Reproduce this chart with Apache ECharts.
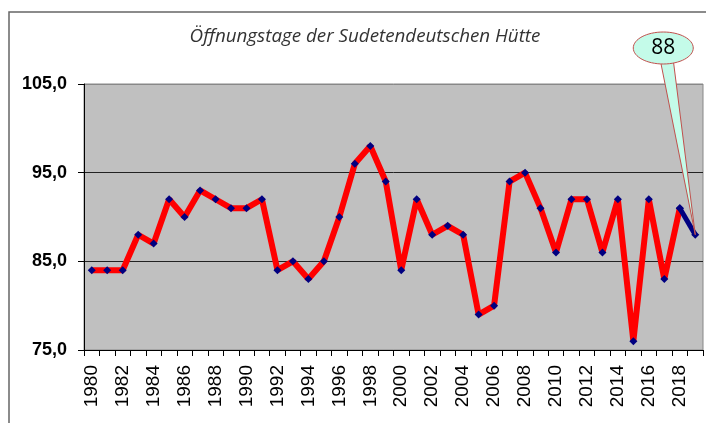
<!DOCTYPE html>
<html>
<head>
<meta charset="utf-8">
<script src="https://cdn.jsdelivr.net/npm/echarts@6/dist/echarts.min.js"></script>
<style>
  html, body { margin: 0; padding: 0; background: #fff; }
  #chart { width: 706px; height: 423px; }
</style>
</head>
<body>
<div id="chart"></div>
<script>
// Jahre und Öffnungstage
const years = ['1980','1981','1982','1983','1984','1985','1986','1987','1988','1989',
  '1990','1991','1992','1993','1994','1995','1996','1997','1998','1999',
  '2000','2001','2002','2003','2004','2005','2006','2007','2008','2009',
  '2010','2011','2012','2013','2014','2015','2016','2017','2018','2019'];
const days = [84, 84, 84, 88, 87, 92, 90, 93, 92, 91,
  91, 92, 84, 85, 83, 85, 90, 96, 98, 94,
  84, 92, 88, 89, 88, 79, 80, 94, 95, 91,
  86, 92, 92, 86, 92, 76, 92, 83, 91, 88];
const yTicks = [75, 85, 95, 105];
const calloutText = '88';

// letztes Segment dunkelblau
const lastSegment = days.map((v, i) => (i >= days.length - 2 ? v : '-'));

const myChart = echarts.init(document.getElementById('chart'));
const option = {
  animation: false,
  title: {
    text: 'Öffnungstage der Sudetendeutschen Hütte',
    left: 360,
    top: 22,
    textAlign: 'center',
    textStyle: {
      fontFamily: 'Open Sans',
      fontStyle: 'italic',
      fontWeight: 'normal',
      fontSize: 18.8,
      color: '#333'
    }
  },
  grid: {
    left: 84,
    right: 3,
    top: 84,
    bottom: 73,
    show: true,
    backgroundColor: '#c0c0c0',
    borderColor: '#888',
    borderWidth: 1
  },
  xAxis: {
    type: 'category',
    data: years,
    boundaryGap: true,
    axisLine: { lineStyle: { color: '#000', width: 1 } },
    axisTick: { show: true, interval: 0, length: 6, lineStyle: { color: '#000' } },
    axisLabel: {
      interval: 1,
      rotate: 90,
      margin: 15,
      fontFamily: 'Liberation Sans',
      fontSize: 19,
      color: '#000'
    },
    splitLine: { show: false }
  },
  yAxis: {
    type: 'value',
    min: yTicks[0],
    max: yTicks[yTicks.length - 1],
    interval: 10,
    axisLine: { show: true, lineStyle: { color: '#000', width: 1 } },
    axisTick: { show: true, length: 6, lineStyle: { color: '#000' } },
    axisLabel: {
      margin: 17,
      fontFamily: 'Liberation Sans',
      fontWeight: 'bold',
      fontSize: 18,
      color: '#000',
      formatter: v => v.toFixed(1).replace('.', ',')
    },
    splitLine: { show: true, lineStyle: { color: ['#222', '#222', '#222', '#888'], width: 1 } }
  },
  series: [
    {
      type: 'line',
      data: days.slice(0, days.length - 1).concat(['-']),
      symbol: 'diamond',
      symbolSize: 8,
      itemStyle: { color: '#000080' },
      lineStyle: { color: '#ff0000', width: 6 },
      z: 2
    },
    {
      type: 'line',
      data: lastSegment,
      symbol: 'diamond',
      symbolSize: 8,
      itemStyle: { color: '#000080' },
      lineStyle: { color: '#000080', width: 5 },
      z: 3
    }
  ]
};
myChart.setOption(option);

// Sprechblase mit "88" zum letzten Punkt
const lastIdx = days.length - 1;
const pt = myChart.convertToPixel({ seriesIndex: 0 }, [lastIdx, days[lastIdx]]);
const cx = pt[0] - 32, cy = 48;
myChart.setOption({
  graphic: [
    {
      type: 'rect',
      shape: { x: 9, y: 12, width: 720, height: 440 },
      style: { fill: 'none', stroke: '#666', lineWidth: 1.5 },
      silent: true
    },
    {
      type: 'polygon',
      shape: { points: [[cx - 3, cy + 12], [cx + 10, cy + 12], pt] },
      style: { fill: '#c4fbe9', stroke: '#c0504d', lineWidth: 1 },
      z: 10
    },
    {
      type: 'ellipse',
      shape: { cx: cx, cy: cy, rx: 30, ry: 16 },
      style: { fill: '#c4fbe9', stroke: '#c0504d', lineWidth: 1 },
      z: 11
    },
    {
      type: 'text',
      x: cx,
      y: cy,
      style: {
        text: calloutText,
        fontFamily: 'Open Sans',
        fontSize: 21,
        fill: '#000',
        align: 'center',
        verticalAlign: 'middle'
      },
      z: 12
    }
  ]
});
</script>
</body>
</html>
